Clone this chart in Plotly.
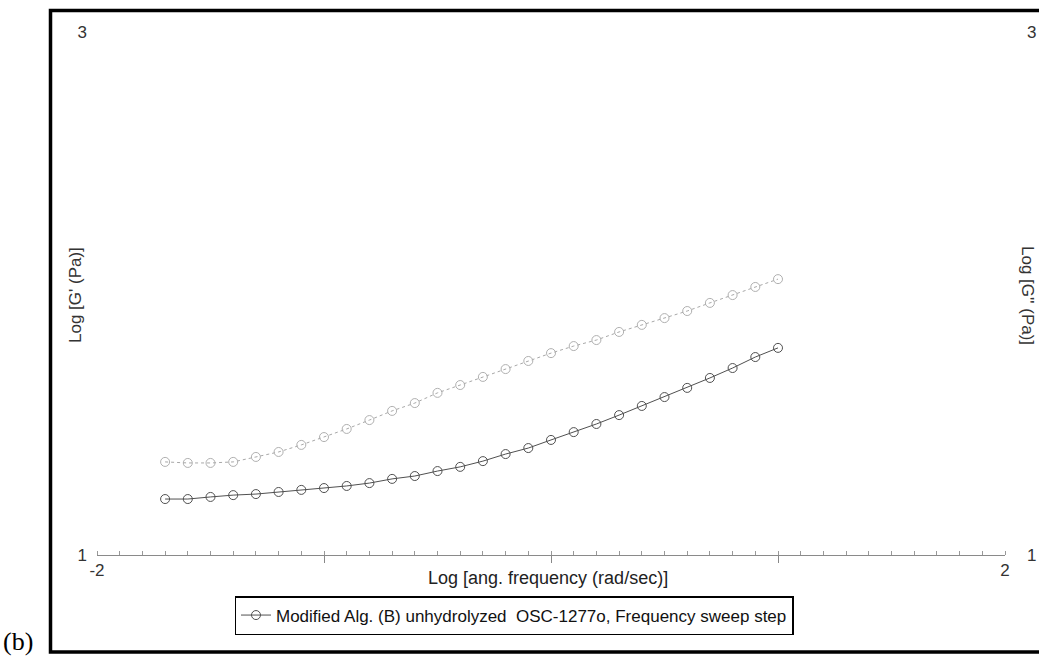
import plotly.graph_objects as go

# Log angular frequency (rad/s), 0.1-decade steps
log_freq = [-1.7, -1.6, -1.5, -1.4, -1.3, -1.2, -1.1, -1.0, -0.9, -0.8,
            -0.7, -0.6, -0.5, -0.4, -0.3, -0.2, -0.1, 0.0, 0.1, 0.2,
            0.3, 0.4, 0.5, 0.6, 0.7, 0.8, 0.9, 1.0]

# Log storage modulus G' (Pa)
log_g1 = [1.214, 1.214, 1.222, 1.229, 1.233, 1.241, 1.249, 1.256, 1.264, 1.275,
          1.291, 1.302, 1.321, 1.337, 1.359, 1.386, 1.409, 1.440, 1.470, 1.501,
          1.535, 1.570, 1.604, 1.639, 1.677, 1.715, 1.757, 1.792]

# Log loss modulus G'' (Pa)
log_g2 = [1.356, 1.352, 1.352, 1.356, 1.375, 1.394, 1.421, 1.451, 1.482, 1.516,
          1.551, 1.581, 1.620, 1.650, 1.681, 1.711, 1.742, 1.772, 1.799, 1.822,
          1.853, 1.880, 1.906, 1.933, 1.964, 1.994, 2.025, 2.055]

x_labels = [-2, 2]
x_labeltext = ["-2", "2"]
x_major = [-1, 0, 1]
y_ticks = [1, 3]
y_ticktext = ["1", "3"]

legend_text = "Modified Alg. (B) unhydrolyzed\u00a0 OSC-1277o, Frequency sweep step"

W, H = 1039, 662
ML, MR, MT, MB = 97, 34, 32, 107
PW, PH = W - ML - MR, H - MT - MB


def px(x):
    return (x - ML) / PW


def py(y):
    return (H - MB - y) / PH


FONT = "Arial, Liberation Sans, sans-serif"

fig = go.Figure()

# G'' against the right-hand axis (overlaid x2/y2 pair)
fig.add_trace(go.Scatter(
    x=log_freq, y=log_g2, xaxis="x2", yaxis="y2", mode="lines+markers",
    line=dict(color="#a8a8a8", width=1, dash="dot"),
    marker=dict(symbol="circle-open", size=9, color="#b0b0b0", line=dict(width=1)),
    showlegend=False,
))

fig.add_trace(go.Scatter(
    x=log_freq, y=log_g1, mode="lines+markers", name=legend_text,
    line=dict(color="#505050", width=1),
    marker=dict(symbol="circle-open", size=9, color="#505050", line=dict(width=1)),
))

fig.update_layout(
    width=W, height=H,
    margin=dict(l=ML, r=MR, t=MT, b=MB),
    paper_bgcolor="white", plot_bgcolor="white",
    font=dict(family=FONT, size=17, color="#333333"),
    xaxis=dict(
        range=[-2, 2], tickvals=x_labels, ticktext=x_labeltext, automargin=False,
        showgrid=False, zeroline=False,
        showline=True, linecolor="#8a8a8a", linewidth=1,
        ticks="",
        minor=dict(dtick=0.1, ticks="inside", ticklen=4, tickcolor="#999999", tickwidth=1),
        tickfont=dict(size=17, color="#333333"),
    ),
    # decade ticks hanging below the frequency axis
    xaxis2=dict(
        range=[-2, 2], tickvals=x_major, overlaying="x", anchor="y", side="bottom",
        automargin=False, showgrid=False, zeroline=False, showline=False,
        showticklabels=False, ticks="outside", ticklen=7, tickcolor="#888888", tickwidth=1,
    ),
    yaxis=dict(
        range=[1, 3], tickvals=y_ticks, ticktext=y_ticktext, automargin=False,
        showgrid=False, zeroline=False, showline=False, ticks="",
        ticklabelstandoff=9,
        tickfont=dict(size=17, color="#333333"),
    ),
    yaxis2=dict(
        range=[1, 3], tickvals=y_ticks, ticktext=y_ticktext, automargin=False,
        overlaying="y", side="right", anchor="x",
        showgrid=False, zeroline=False, showline=False,
        ticks="", ticklabelstandoff=21,
        tickfont=dict(size=17, color="#333333"),
    ),
    legend=dict(
        x=px(514), y=py(596), xanchor="center", yanchor="top",
        bordercolor="black", borderwidth=1.5, bgcolor="white",
        font=dict(family=FONT, size=17, color="#111111"),
        itemwidth=30, tracegroupgap=0,
    ),
    shapes=[
        dict(type="rect", xref="paper", yref="paper",
             x0=px(50.5), x1=px(1060), y0=py(652), y1=py(10.5),
             line=dict(color="black", width=3.5), fillcolor="rgba(0,0,0,0)"),
    ],
    annotations=[
        dict(text="Log [ang. frequency (rad/sec)]", xref="paper", yref="paper",
             x=px(548), y=py(578), xanchor="center", yanchor="middle",
             showarrow=False, font=dict(size=18, color="#222222")),
        dict(text="Log [G' (Pa)]", xref="paper", yref="paper", x=px(75), y=py(295),
             xanchor="center", yanchor="middle",
             textangle=-90, showarrow=False, font=dict(size=17, color="#333333")),
        dict(text="Log [G'' (Pa)]", xref="paper", yref="paper", x=px(1028), y=py(295),
             xanchor="center", yanchor="middle",
             textangle=90, showarrow=False, font=dict(size=17, color="#333333")),
        dict(text="(b)", xref="paper", yref="paper", x=px(18), y=py(641),
             xanchor="center", yanchor="middle",
             showarrow=False, font=dict(family="Times New Roman, Liberation Serif, serif",
                                        size=26, color="black")),
    ],
)

fig.write_html("out.html")
